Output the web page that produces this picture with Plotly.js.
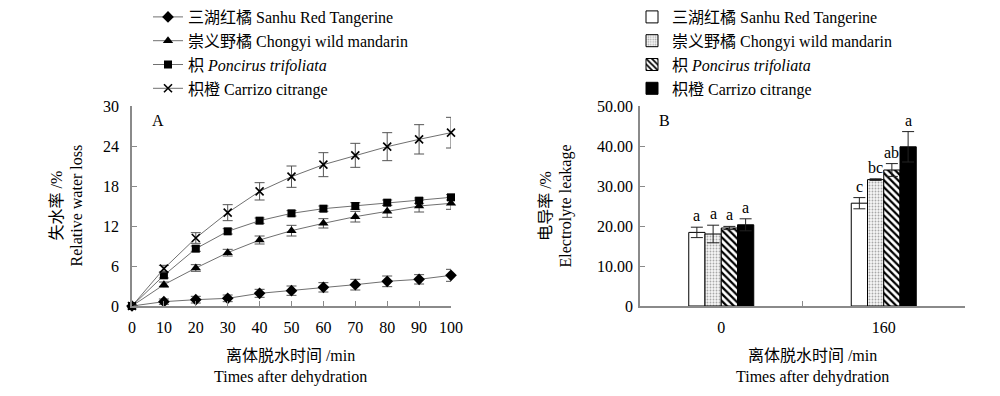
<!DOCTYPE html>
<html>
<head>
<meta charset="utf-8">
<script src="https://cdn.plot.ly/plotly-3.0.1.min.js"></script>
<style>html,body{margin:0;padding:0;background:#fff;}#chart{width:1000px;height:396px;}</style>
</head>
<body>
<div id="chart"></div>
<script>
// ---- Panel A data: relative water loss (%) ----
const times = [0, 10, 20, 30, 40, 50, 60, 70, 80, 90, 100];
const sanhuLoss    = [0, 0.65, 0.95, 1.15, 1.9, 2.3, 2.8, 3.2, 3.7, 4.0, 4.6];
const sanhuLossErr = [0.1, 0.4, 0.5, 0.5, 0.6, 0.7, 0.7, 0.8, 0.8, 0.7, 0.9];
const chongyiLoss    = [0, 3.2, 5.7, 8.0, 9.9, 11.3, 12.4, 13.4, 14.2, 15.0, 15.4];
const chongyiLossErr = [0.1, 0.4, 0.5, 0.5, 0.6, 0.8, 0.7, 0.8, 0.9, 0.9, 0.9];
const poncirusLoss    = [0, 4.6, 8.6, 11.2, 12.8, 13.9, 14.6, 15.0, 15.5, 15.8, 16.3];
const poncirusLossErr = [0.1, 0.4, 0.4, 0.4, 0.4, 0.4, 0.4, 0.5, 0.4, 0.4, 0.4];
const carrizoLoss    = [0, 5.6, 10.2, 14.0, 17.2, 19.4, 21.2, 22.6, 23.9, 25.0, 26.0];
const carrizoLossErr = [0.1, 0.5, 0.8, 1.2, 1.3, 1.6, 1.8, 1.8, 2.1, 2.2, 2.3];

// ---- Panel B data: electrolyte leakage (%) ----
const groups = ["0", "160"];
const sanhuEL = [18.4, 25.7];
const sanhuELErr = [1.3, 1.4];
const chongyiEL = [18.0, 31.6];
const chongyiELErr = [2.2, 0.2];
const poncirusEL = [19.5, 34.0];
const poncirusELErr = [0.4, 1.6];
const carrizoEL = [20.3, 39.8];
const carrizoELErr = [1.5, 3.8];
const sanhuLetters = ["a", "c"];
const chongyiLetters = ["a", "bc"];
const poncirusLetters = ["a", "ab"];
const carrizoLetters = ["a", "a"];

// ---- names, titles & ticks ----
const names = ["三湖红橘 Sanhu Red Tangerine", "崇义野橘 Chongyi wild mandarin", "枳 <i>Poncirus trifoliata</i>", "枳橙 Carrizo citrange"];
const xTitle = "离体脱水时间 /min<br>Times after dehydration";
const yTitleA = "失水率 /%<br>Relative water loss";
const yTitleB = "电导率 /%<br>Electrolyte leakage";
const yTicksA = [0, 6, 12, 18, 24, 30];
const yTicksB = [0, 10, 20, 30, 40, 50];
const yTickTextB = ["0", "10.00", "20.00", "30.00", "40.00", "50.00"];

const FONT = "'Liberation Serif', 'Times New Roman', 'Noto Sans CJK SC', serif";

function lineTrace(y, err, name, symbol, size) {
  return {
    type: "scatter", mode: "lines+markers", x: times, y: y, name: name,
    xaxis: "x", yaxis: "y", legend: "legend", cliponaxis: false,
    line: {color: "#707070", width: 1},
    marker: {symbol: symbol, size: size, color: "#000", line: {color: "#000", width: symbol === "x-thin" ? 1.6 : 0}},
    error_y: {type: "data", array: err, visible: true, color: "#555", thickness: 1, width: 5}
  };
}

function barTrace(y, err, name, marker) {
  return {
    type: "bar", x: groups, y: y, name: name, xaxis: "x2", yaxis: "y2", legend: "legend2",
    marker: marker,
    error_y: {type: "data", array: err, visible: true, color: "#222", thickness: 1, width: 6}
  };
}

const data = [
  lineTrace(sanhuLoss, sanhuLossErr, names[0], "diamond", 9),
  lineTrace(chongyiLoss, chongyiLossErr, names[1], "triangle-up", 9),
  lineTrace(poncirusLoss, poncirusLossErr, names[2], "square", 8),
  lineTrace(carrizoLoss, carrizoLossErr, names[3], "x-thin", 8),
  barTrace(sanhuEL, sanhuELErr, names[0], {color: "#fff", line: {color: "#000", width: 1}}),
  barTrace(chongyiEL, chongyiELErr, names[1], {color: "#fff", line: {color: "#000", width: 1},
    pattern: {shape: ".", fgcolor: "#a8a8a8", bgcolor: "#f6f6f6", size: 3, solidity: 0.3}}),
  barTrace(poncirusEL, poncirusELErr, names[2], {color: "#fff", line: {color: "#000", width: 1},
    pattern: {shape: "\\", fgcolor: "#000", bgcolor: "#fff", size: 5, solidity: 0.45}}),
  barTrace(carrizoEL, carrizoELErr, names[3], {color: "#000", line: {color: "#000", width: 1}})
];

// letter annotations above error bars (positioned via category index + group offsets)
const offsets = [-0.15, -0.05, 0.05, 0.15];
const letterSets = [sanhuLetters, chongyiLetters, poncirusLetters, carrizoLetters];
const valSets = [sanhuEL, chongyiEL, poncirusEL, carrizoEL];
const errSets = [sanhuELErr, chongyiELErr, poncirusELErr, carrizoELErr];
const txtFont = {family: FONT, size: 16, color: "#000"};
const annotations = [];
for (let s = 0; s < 4; s++) {
  for (let g = 0; g < groups.length; g++) {
    annotations.push({
      xref: "x2", yref: "y2", x: g + offsets[s], y: valSets[s][g] + errSets[s][g],
      text: letterSets[s][g], showarrow: false, yanchor: "bottom", yshift: 1, font: txtFont
    });
  }
}
// panel labels
annotations.push({xref: "paper", yref: "paper", x: 0.150, y: 1.0, xanchor: "left", yanchor: "top", yshift: -4,
  text: "A", showarrow: false, font: txtFont});
annotations.push({xref: "paper", yref: "paper", x: 0.657, y: 1.0, xanchor: "left", yanchor: "top", yshift: -4,
  text: "B", showarrow: false, font: txtFont});
// axis titles (placed as paper annotations for exact positioning)
annotations.push({xref: "paper", yref: "paper", x: 0.290, y: 0, xanchor: "center", yanchor: "middle", yshift: -60,
  text: xTitle, showarrow: false, font: txtFont});
annotations.push({xref: "paper", yref: "paper", x: 0.812, y: 0, xanchor: "center", yanchor: "middle", yshift: -60,
  text: xTitle, showarrow: false, font: txtFont});
annotations.push({xref: "paper", yref: "paper", x: 0.0665, y: 0.5, xanchor: "center", yanchor: "middle",
  textangle: -90, text: yTitleA, showarrow: false, font: txtFont});
annotations.push({xref: "paper", yref: "paper", x: 0.5555, y: 0.5, xanchor: "center", yanchor: "middle",
  textangle: -90, text: yTitleB, showarrow: false, font: txtFont});

const axisCommon = {
  showline: true, linecolor: "#8a8a8a", linewidth: 1.5, ticks: "inside", ticklen: 5,
  tickcolor: "#8a8a8a", showgrid: false, zeroline: false, automargin: false,
  tickfont: txtFont
};

const layout = {
  width: 1000, height: 396,
  margin: {l: 0, r: 0, t: 103, b: 90},
  paper_bgcolor: "#fff", plot_bgcolor: "#fff",
  font: {family: FONT, size: 16, color: "#000"},
  barmode: "group", bargap: 0.6, bargroupgap: 0,
  xaxis: Object.assign({}, axisCommon, {
    domain: [0.132, 0.451], range: [0, 100], tickvals: times, ticklabelstandoff: 6
  }),
  yaxis: Object.assign({}, axisCommon, {
    range: [0, 30], tickvals: yTicksA, ticklabelstandoff: 8
  }),
  xaxis2: Object.assign({}, axisCommon, {
    domain: [0.640, 0.965], type: "category", tickson: "boundaries", anchor: "y2", ticklabelstandoff: 6
  }),
  yaxis2: Object.assign({}, axisCommon, {
    anchor: "x2", range: [0, 50], tickvals: yTicksB, ticktext: yTickTextB, ticklabelstandoff: 2
  }),
  legend: {x: 0.148, y: 1.0, xanchor: "left", yanchor: "bottom", yref: "paper",
    bgcolor: "rgba(0,0,0,0)", font: txtFont, tracegroupgap: 0},
  legend2: {x: 0.632, y: 1.0, xanchor: "left", yanchor: "bottom", yref: "paper",
    bgcolor: "rgba(0,0,0,0)", font: txtFont, tracegroupgap: 0},
  annotations: annotations,
  showlegend: true
};

Plotly.newPlot("chart", data, layout, {displayModeBar: false, responsive: false});
</script>
</body>
</html>
